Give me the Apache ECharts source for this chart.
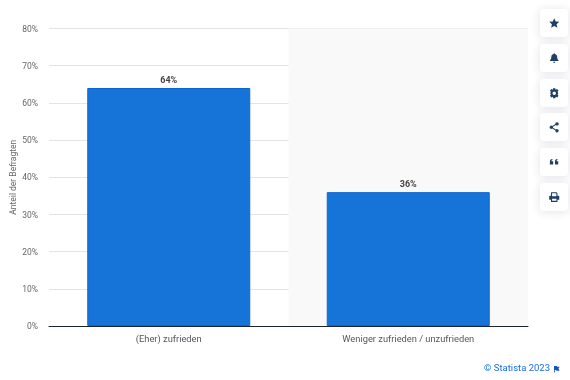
<!DOCTYPE html>
<html>
<head>
<meta charset="utf-8">
<style>
  html, body { margin: 0; background: #fff; }
  #chart { width: 570px; height: 380px; }
</style>
<script src="https://cdn.jsdelivr.net/npm/echarts@6/dist/echarts.min.js"></script>
</head>
<body>
<div id="chart"></div>
<script>
const categories = ['(Eher) zufrieden', 'Weniger zufrieden / unzufrieden'];
const shares = [64, 36];
const yMax = 80;
const yStep = 10;
const yTitle = 'Anteil der Befragten';
const credit = '© Statista 2023';

const FONT = 'Roboto, "Open Sans", sans-serif';
const ICON = '#1f3f66';

// side buttons: top edge of each card and its icon
const buttonTops = [9, 44, 79, 113, 148, 183];
const iconPaths = [
  // star
  'M7 0L9 4.6L14 5.1L10.2 8.4L11.4 13.4L7 10.7L2.6 13.4L3.8 8.4L0 5.1L5 4.6Z',
  // bell
  'M7 0C7.6 0 8 .4 8 1C10 1.5 11 3 11 5C11 8 12 9 13 10V11H1V10C2 9 3 8 3 5C3 3 4 1.5 6 1C6 .4 6.4 0 7 0ZM5.5 12H8.5C8.5 13 7.8 13.6 7 13.6C6.2 13.6 5.5 13 5.5 12Z',
  // gear
  'M5.5 0H8.5L9 2L11 1.2L13 3.5L11.6 5L12.6 7L11.6 9L13 10.5L11 12.8L9 12L8.5 14H5.5L5 12L3 12.8L1 10.5L2.4 9L1.4 7L2.4 5L1 3.5L3 1.2L5 2ZM7 4.6A2.4 2.4 0 1 0 7 9.4A2.4 2.4 0 1 0 7 4.6Z',
  // share
  'M11 0A2.3 2.3 0 1 1 9.2 3.8L5.2 6.2A2.3 2.3 0 0 1 5.2 7.8L9.2 10.2A2.3 2.3 0 1 1 8.6 11.4L4.3 8.8A2.3 2.3 0 1 1 4.3 5.2L8.6 2.6A2.3 2.3 0 0 1 11 0Z',
  // quote
  'M1 6C1 4 2 3 4.5 2.6V4C3.5 4.3 3 4.8 3 5.5H5.5V10H1ZM8 6C8 4 9 3 11.5 2.6V4C10.5 4.3 10 4.8 10 5.5H12.5V10H8Z',
  // printer
  'M3 0H10L11.5 1.5V5H13C13.6 5 14 5.4 14 6V10.5H11.5V13.5H2.5V10.5H0V6C0 5.4 .4 5 1 5H2.5V0.5ZM4 1.5V5.5H10V2.2L9.3 1.5ZM4 9V12H10V9Z'
];
const flagPath = 'M0 0H4L4.5 1H8L6.5 3.5L8 6H3.5L3 5H1.2V8H0Z';

// graphic has no plain path type, so each icon becomes a named shape
iconPaths.forEach((d, i) => {
  echarts.graphic.registerShape('icon' + i, echarts.graphic.extendPath(d, {}));
});
echarts.graphic.registerShape('flag', echarts.graphic.extendPath(flagPath, {}));

const buttons = buttonTops.flatMap((top, i) => [
  {
    type: 'rect', silent: true, z: 5,
    shape: { x: 540, y: top, width: 28, height: 28, r: 4 },
    style: { fill: '#fff', shadowBlur: 10, shadowColor: 'rgba(20,40,70,0.13)', shadowOffsetY: 1 }
  },
  {
    type: 'icon' + i, silent: true, z: 6,
    x: 549.2, y: top + 9.2, scaleX: 0.72, scaleY: 0.72,
    style: { fill: ICON }
  }
]);

const chart = echarts.init(document.getElementById('chart'), null, { renderer: 'canvas' });
chart.setOption({
  animation: false,
  backgroundColor: '#fff',
  textStyle: { fontFamily: FONT },
  grid: { left: 49, right: 42, top: 28.5, bottom: 54, outerBoundsMode: 'none' },
  xAxis: {
    type: 'category',
    data: categories,
    axisTick: { show: false },
    axisLine: { lineStyle: { color: '#1b2430', width: 1 } },
    axisLabel: { color: '#55565c', fontSize: 9.3, fontFamily: FONT, margin: 9 },
    splitArea: { show: true, areaStyle: { color: ['rgba(0,0,0,0)', '#f9f9f9'] } }
  },
  yAxis: {
    type: 'value',
    min: 0,
    max: yMax,
    interval: yStep,
    name: yTitle,
    nameLocation: 'middle',
    nameGap: 31,
    nameMoveOverlap: false,
    nameTextStyle: { color: '#666', fontSize: 8.5, fontFamily: FONT },
    axisLine: { show: false },
    axisTick: { show: false },
    axisLabel: { color: '#666', fontSize: 8.5, fontFamily: FONT, margin: 11, verticalAlign: 'top', lineHeight: 2, formatter: '{value}%' },
    splitLine: { lineStyle: { color: '#e4e4e4', width: 1 } }
  },
  series: [{
    type: 'bar',
    data: shares,
    barWidth: 163,
    itemStyle: { color: '#1674d9', borderColor: '#0f66d0', borderWidth: 1 },
    label: {
      show: true,
      position: 'top',
      distance: 3,
      color: '#444',
      fontSize: 9,
      fontWeight: 'bold',
      fontFamily: FONT,
      formatter: '{c}%'
    }
  }],
  graphic: [
    ...buttons,
    {
      type: 'text', silent: true,
      style: { x: 484, y: 364, text: credit, fill: '#1a6fe0', fontSize: 9.5, fontFamily: FONT }
    },
    {
      type: 'flag', silent: true,
      x: 554, y: 366, scaleX: 0.7, scaleY: 0.8,
      style: { fill: '#1557b8' }
    }
  ]
});
</script>
</body>
</html>
